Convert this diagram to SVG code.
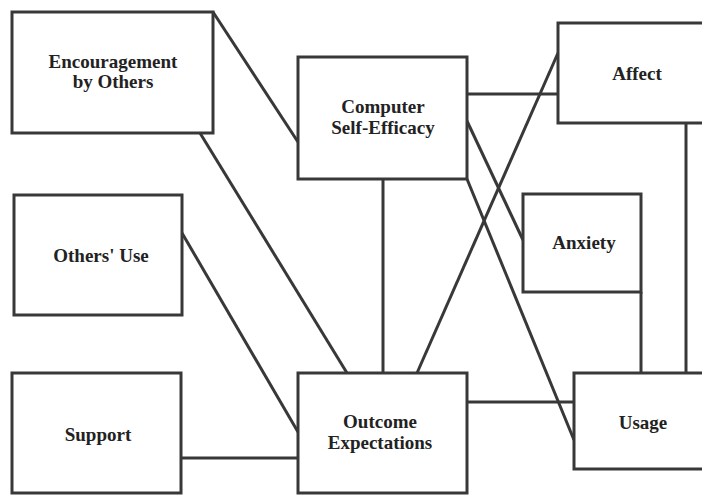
<svg xmlns="http://www.w3.org/2000/svg" width="702" height="495" viewBox="0 0 702 495">
<style>
.box{fill:#fff;stroke:#383838;stroke-width:3}
.lbl{font-family:"Liberation Serif","Times New Roman",serif;font-weight:bold;font-size:19px;fill:#222;text-anchor:middle}
.edge{stroke:#383838;stroke-width:3;fill:none}
</style>
<rect width="702" height="495" fill="#fff"/>
<g id="connectors">
<line class="edge" x1="213" y1="12" x2="298" y2="142"/>
<line class="edge" x1="200" y1="133" x2="347" y2="373"/>
<line class="edge" x1="182" y1="233" x2="298" y2="432"/>
<line class="edge" x1="181" y1="458" x2="298" y2="458"/>
<line class="edge" x1="383" y1="179" x2="383" y2="373"/>
<line class="edge" x1="467" y1="94" x2="558" y2="94"/>
<line class="edge" x1="558" y1="53" x2="417" y2="373"/>
<line class="edge" x1="467" y1="121" x2="523" y2="240"/>
<line class="edge" x1="467" y1="179" x2="574" y2="440"/>
<line class="edge" x1="467" y1="402" x2="574" y2="402"/>
<line class="edge" x1="641" y1="292" x2="641" y2="373"/>
<line class="edge" x1="686" y1="123" x2="686" y2="373"/>
</g>
<g id="encouragement">
<rect class="box" x="12" y="12" width="201" height="121"/>
<text class="lbl" x="113" y="68">Encouragement</text>
<text class="lbl" x="113" y="88">by Others</text>
</g>
<g id="cse">
<rect class="box" x="298" y="57" width="169" height="122"/>
<text class="lbl" x="383" y="113">Computer</text>
<text class="lbl" x="383" y="134">Self-Efficacy</text>
</g>
<g id="affect">
<rect class="box" x="558" y="23" width="160" height="100"/>
<text class="lbl" x="637" y="80">Affect</text>
</g>
<g id="others-use">
<rect class="box" x="14" y="195" width="168" height="120"/>
<text class="lbl" x="101" y="262">Others' Use</text>
</g>
<g id="anxiety">
<rect class="box" x="523" y="194" width="118" height="98"/>
<text class="lbl" x="584" y="249">Anxiety</text>
</g>
<g id="support">
<rect class="box" x="12" y="373" width="169" height="120"/>
<text class="lbl" x="98" y="441">Support</text>
</g>
<g id="outcome">
<rect class="box" x="298" y="373" width="169" height="120"/>
<text class="lbl" x="380" y="428">Outcome</text>
<text class="lbl" x="380" y="449">Expectations</text>
</g>
<g id="usage">
<rect class="box" x="574" y="373" width="150" height="96"/>
<text class="lbl" x="643" y="429">Usage</text>
</g>
</svg>
